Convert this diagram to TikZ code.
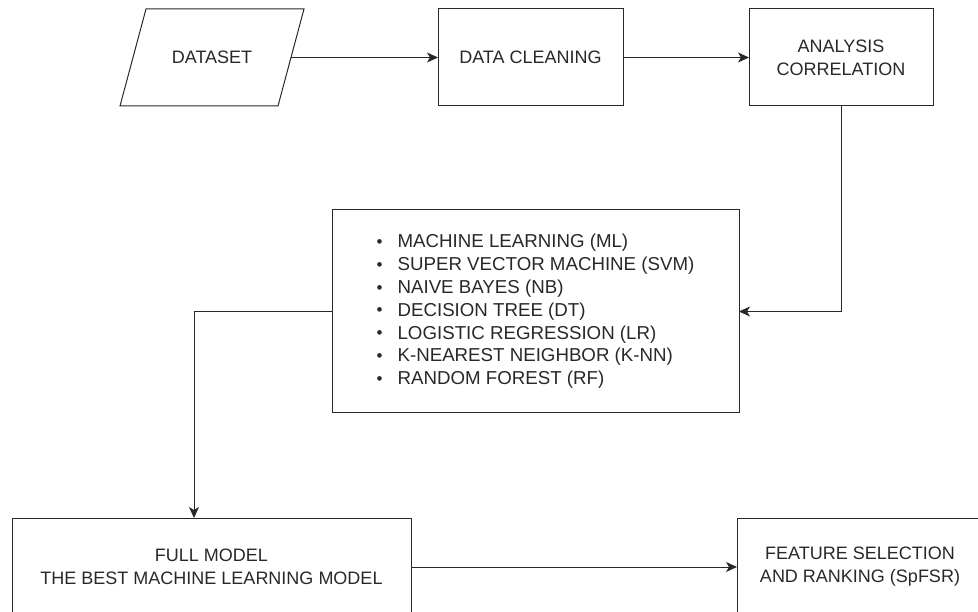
\documentclass[tikz,border=0pt]{standalone}
\usepackage{fontspec}
\setmainfont{Liberation Sans}
\usetikzlibrary{positioning,arrows.meta,calc}
\definecolor{ink}{RGB}{40,40,40}
\newcommand{\lidot}{\makebox[21pt][l]{\raisebox{0.5pt}{\fontsize{17}{17}\selectfont\textbullet}}}

\begin{document}
\begin{tikzpicture}[
    x=1pt, y=-1pt,
    stage/.style={rectangle, draw=ink, line width=1pt, minimum height=97pt, inner sep=0pt, outer sep=0pt, align=center, text=ink, font=\fontsize{18}{23}\selectfont},
    io/.style={stage, draw=none, minimum width=158pt},
    arrow/.style={-{Stealth[length=11pt,width=10pt,inset=3pt]}, draw=ink, line width=1pt}
]
    \useasboundingbox (0,0) rectangle (978,612);
    \clip (0,0) rectangle (978,612);

    % Top row
    \node[io] (dataset) at (212,57.5) {DATASET};
    \draw[draw=ink, line width=1pt] ([xshift=-13pt]dataset.south west) -- ([xshift=13pt]dataset.north west)
        -- ([xshift=13pt]dataset.north east) -- ([xshift=-13pt]dataset.south east) -- cycle;
    \node[stage, minimum width=185pt, right=147pt of dataset] (cleaning) {DATA CLEANING};
    \node[stage, minimum width=184pt, right=126pt of cleaning] (analysis) {ANALYSIS\\CORRELATION};

    % Classifiers
    \node[stage, minimum width=407pt, minimum height=203pt, align=left, font=\fontsize{18.7}{22.8}\selectfont] (models) at (535.5,311.5) {%
        \lidot MACHINE LEARNING (ML)\\
        \lidot SUPER VECTOR MACHINE (SVM)\\
        \lidot NAIVE BAYES (NB)\\
        \lidot DECISION TREE (DT)\\
        \lidot LOGISTIC REGRESSION (LR)\\
        \lidot K-NEAREST NEIGHBOR (K-NN)\\
        \lidot RANDOM FOREST (RF)};

    % Bottom row
    \node[stage, minimum width=399pt, minimum height=98pt] (full) at (211.5,567) {FULL MODEL\\THE BEST MACHINE LEARNING MODEL};
    \node[stage, minimum width=246pt, minimum height=98pt, right=326pt of full] (feature) {FEATURE SELECTION\\AND RANKING (SpFSR)};

    % Flow
    \draw[arrow] (dataset) -- (cleaning);
    \draw[arrow] (cleaning) -- (analysis);
    \draw[arrow] (analysis) |- (models);
    \draw[arrow] (models) -| ([xshift=-17.5pt]full.north);
    \draw[arrow] (full) -- (feature);
\end{tikzpicture}
\end{document}
